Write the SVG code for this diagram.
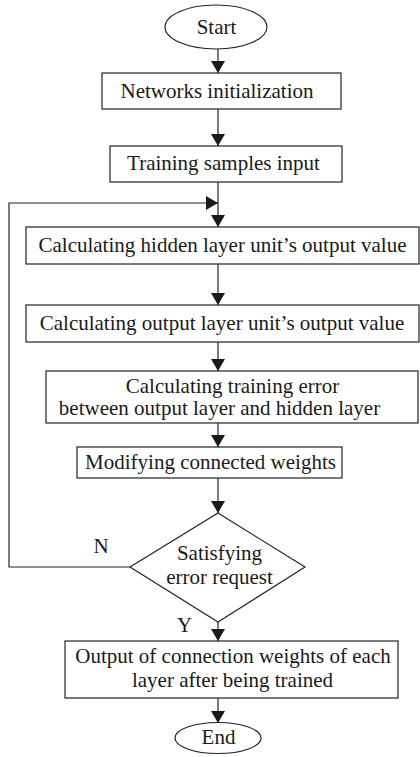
<svg xmlns="http://www.w3.org/2000/svg" width="420" height="757" viewBox="0 0 420 757">
<style>
.n{fill:#fff;stroke:#222;stroke-width:1.2}
.t{font-family:"Liberation Serif","Times New Roman",serif;font-size:21px;fill:#1a1a1a;text-anchor:middle}
.c{fill:none;stroke:#222;stroke-width:1.2}
</style>
<defs>
<marker id="ah" markerWidth="13" markerHeight="14" refX="12" refY="7" orient="auto" markerUnits="userSpaceOnUse">
<path d="M0,0 L12,7 L0,14 Z" fill="#1a1a1a"/>
</marker>
</defs>
<g id="connectors">
<line class="c" x1="218" y1="49" x2="218" y2="73" marker-end="url(#ah)"/>
<line class="c" x1="218" y1="109" x2="218" y2="146" marker-end="url(#ah)"/>
<line class="c" x1="218" y1="182" x2="218" y2="227" marker-end="url(#ah)"/>
<polyline class="c" points="131,567 9,567 9,203 218,203" marker-end="url(#ah)"/>
<line class="c" x1="218" y1="264" x2="218" y2="305" marker-end="url(#ah)"/>
<line class="c" x1="218" y1="342" x2="218" y2="371" marker-end="url(#ah)"/>
<line class="c" x1="218" y1="423" x2="218" y2="447" marker-end="url(#ah)"/>
<line class="c" x1="218" y1="478" x2="218" y2="513" marker-end="url(#ah)"/>
<line class="c" x1="218" y1="622" x2="218" y2="641" marker-end="url(#ah)"/>
<line class="c" x1="218" y1="698" x2="218" y2="723" marker-end="url(#ah)"/>
<text class="t" x="101" y="553">N</text>
<text class="t" x="184.5" y="632">Y</text>
</g>
<g id="start">
<ellipse class="n" cx="216" cy="27" rx="51" ry="22"/>
<text class="t" x="216.5" y="34">Start</text>
</g>
<g id="init">
<rect class="n" x="102" y="73" width="239" height="36"/>
<text class="t" x="217" y="98">Networks initialization</text>
</g>
<g id="input">
<rect class="n" x="110" y="146" width="232" height="36"/>
<text class="t" x="223.5" y="170">Training samples input</text>
</g>
<g id="hidden">
<rect class="n" x="26" y="227" width="393" height="37"/>
<text class="t" x="222.5" y="252">Calculating hidden layer unit’s output value</text>
</g>
<g id="output">
<rect class="n" x="26" y="305" width="393" height="37"/>
<text class="t" x="222" y="330">Calculating output layer unit’s output value</text>
</g>
<g id="error">
<rect class="n" x="46" y="371" width="372" height="52"/>
<text class="t" x="232.5" y="393">Calculating training error</text>
<text class="t" x="219.5" y="415">between output layer and hidden layer</text>
</g>
<g id="modify">
<rect class="n" x="77" y="447" width="265" height="31"/>
<text class="t" x="210.5" y="469">Modifying connected weights</text>
</g>
<g id="decision">
<polygon class="n" points="218,513 305,567 218,622 130,567"/>
<text class="t" x="219.5" y="560">Satisfying</text>
<text class="t" x="219.5" y="584">error request</text>
</g>
<g id="result">
<rect class="n" x="65" y="641" width="333" height="57"/>
<text class="t" x="233" y="663">Output of connection weights of each</text>
<text class="t" x="232.5" y="687">layer after being trained</text>
</g>
<g id="end">
<ellipse class="n" cx="218" cy="738" rx="43" ry="15.5"/>
<text class="t" x="218.5" y="744">End</text>
</g>
</svg>
